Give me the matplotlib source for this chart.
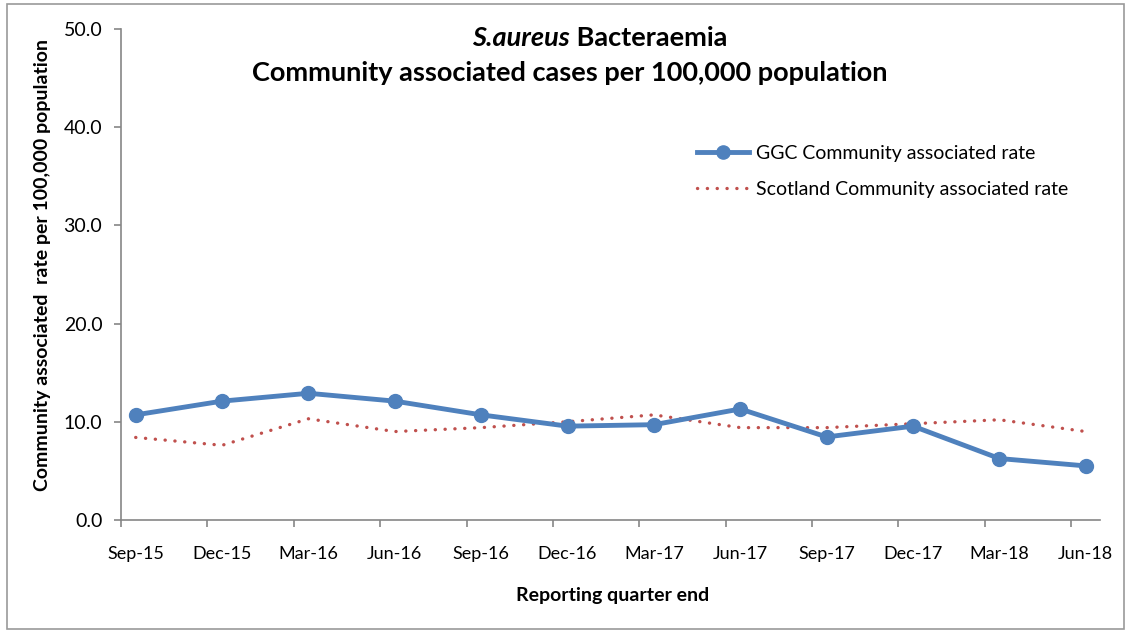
import numpy as np
import matplotlib

matplotlib.use("Agg")
import matplotlib.pyplot as plt
from matplotlib.patches import Rectangle

plt.rcParams["font.family"] = ["Lato", "DejaVu Sans"]

quarters = ["Sep-15", "Dec-15", "Mar-16", "Jun-16", "Sep-16", "Dec-16",
            "Mar-17", "Jun-17", "Sep-17", "Dec-17", "Mar-18", "Jun-18"]
ggc_rate = [10.7, 12.1, 12.9, 12.1, 10.7, 9.55, 9.7, 11.3, 8.45, 9.55, 6.25, 5.5]
scotland_rate = [8.4, 7.6, 10.3, 9.0, 9.4, 10.0, 10.7, 9.4, 9.4, 9.8, 10.2, 9.0]

BLUE = "#4F81BD"
RED = "#C0504D"
GREY = "#868686"

fig = plt.figure(figsize=(11.31, 6.34), dpi=100)
fig.patches.append(Rectangle((0.006, 0.008), 0.988, 0.985, transform=fig.transFigure,
                             fill=False, edgecolor="#9a9a9a", lw=1.2))
ax = fig.add_axes([0.107, 0.180, 0.866, 0.774])

x = np.arange(len(quarters))
ax.plot(x, scotland_rate, color=RED, lw=2.4, linestyle=(0, (0.05, 2.9)),
        dash_capstyle="round", label="Scotland Community associated rate", zorder=2)
ax.plot(x, ggc_rate, color=BLUE, lw=3.5, marker="o", ms=10,
        label="GGC Community associated rate", zorder=3)

ax.set_xlim(-0.17, 11.17)
ax.set_ylim(0, 50)
ax.set_yticks(np.arange(0, 51, 10))
ax.set_yticklabels([f"{v:.1f}" for v in np.arange(0, 51, 10)], fontsize=14)
ax.set_xticks(x)
ax.set_xticklabels(quarters, fontsize=13)
ax.set_xticks(x - 0.17, minor=True)
ax.tick_params(axis="x", which="major", length=0, pad=19)
ax.tick_params(axis="x", which="minor", length=5, width=1.2, color=GREY, direction="out")
ax.tick_params(axis="y", length=5, width=1.2, color=GREY, direction="out", pad=8.5)

for s in ["top", "right"]:
    ax.spines[s].set_visible(False)
for s in ["left", "bottom"]:
    ax.spines[s].set_color(GREY)
    ax.spines[s].set_linewidth(1.2)

ax.set_xlabel("Reporting quarter end", fontsize=14, fontweight="bold")
ax.xaxis.set_label_coords(0.502, -0.137)
ax.set_ylabel("Community associated  rate per 100,000 population", fontsize=14,
              fontweight="bold")
ax.yaxis.set_label_coords(-0.071, 0.52)

fig.text(0.504, 0.94, "S.aureus", fontsize=19.5, fontweight="bold", fontstyle="italic",
         ha="right", va="center")
fig.text(0.504, 0.94, " Bacteraemia", fontsize=19.5, fontweight="bold", ha="left", va="center")
fig.text(0.504, 0.885, "Community associated cases per 100,000 population",
         fontsize=19.5, fontweight="bold", ha="center", va="center")

handles, labels = ax.get_legend_handles_labels()
ax.legend(handles[::-1], labels[::-1], loc="upper left", bbox_to_anchor=(0.588, 0.764),
          frameon=False, fontsize=14, handlelength=2.7, handletextpad=0.36,
          labelspacing=0.97, borderpad=0, borderaxespad=0, markerscale=0.95)

fig.savefig("out.png", dpi=100)
